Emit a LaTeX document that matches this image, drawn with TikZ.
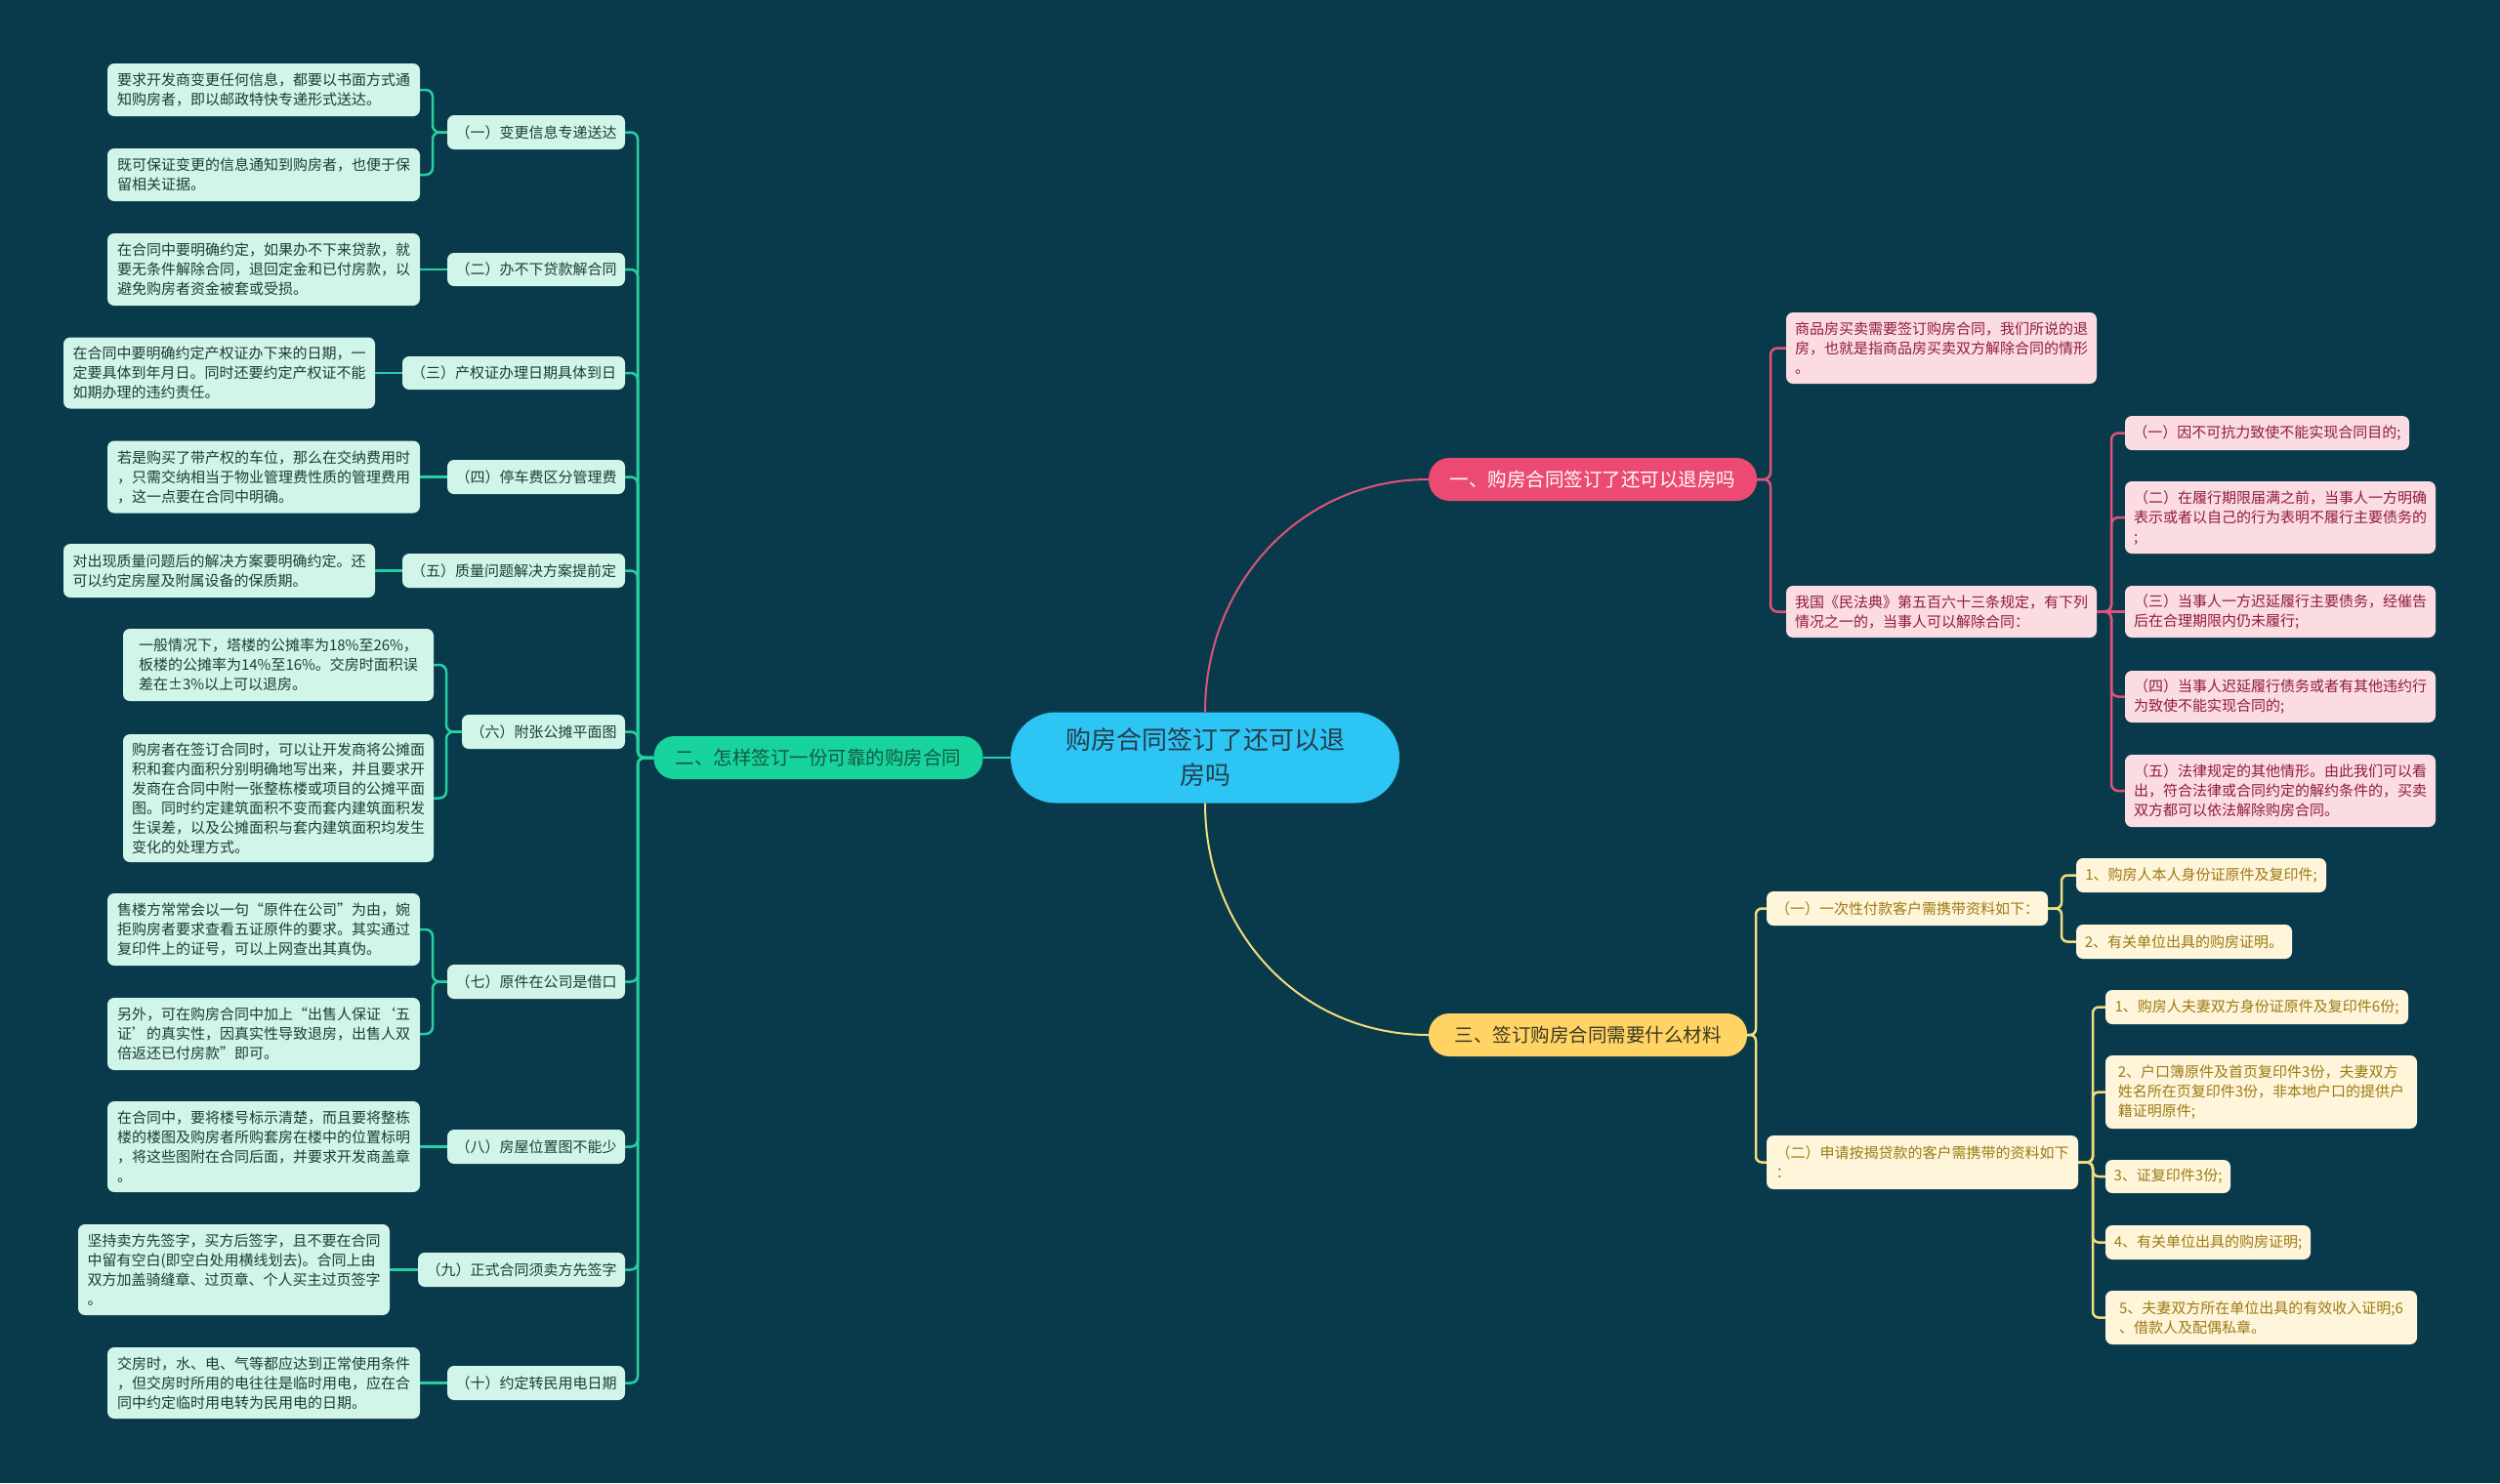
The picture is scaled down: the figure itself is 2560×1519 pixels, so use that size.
\documentclass[tikz,border=0pt]{standalone}
\usepackage{fontspec}
\setmainfont{Noto Sans CJK SC}
\definecolor{bg}{HTML}{093A4B}
\definecolor{cfill}{HTML}{2DC5F4}
\definecolor{ctext}{HTML}{263C4C}
\definecolor{bone}{HTML}{EC4A72}
\definecolor{btwo}{HTML}{17D49C}
\definecolor{btwotext}{HTML}{155645}
\definecolor{bthree}{HTML}{FFD464}
\definecolor{bthreetext}{HTML}{3C3820}
\definecolor{gfill}{HTML}{D2F5EA}
\definecolor{gtext}{HTML}{1D3B35}
\definecolor{pfill}{HTML}{FCDCE3}
\definecolor{ptext}{HTML}{8E1C3F}
\definecolor{yfill}{HTML}{FFF5DA}
\definecolor{ytext}{HTML}{9C7A14}
\definecolor{gline}{HTML}{25D1A2}
\definecolor{pline}{HTML}{DF527B}
\definecolor{yline}{HTML}{F2DC7C}
\tikzset{
  basebox/.style={inner xsep=6pt, inner ysep=3pt, rounded corners=7pt, align=left, font=\fontsize{15}{20}\selectfont},
  gbox/.style={basebox, fill=gfill, text=gtext},
  pbox/.style={basebox, fill=pfill, text=ptext},
  ybox/.style={basebox, fill=yfill, text=ytext},
  sz/.style 2 args={minimum width=#1pt, minimum height=#2pt},
  branchbox/.style={rounded corners=21pt, inner sep=0pt, minimum height=44pt, font=\fontsize{19.5}{24}\selectfont},
  gl/.style={draw=gline, line width=2.5pt, rounded corners=7pt},
  pl/.style={draw=pline, line width=2.5pt, rounded corners=7pt},
  yl/.style={draw=yline, line width=2.5pt, rounded corners=6pt},
}
\begin{document}
\begin{tikzpicture}[x=1pt,y=-1pt]
\useasboundingbox (0,0) rectangle (2560,1519);
\fill[bg] (0,0) rectangle (2560,1519);

% ---- centre and branches
\node[fill=cfill, text=ctext, rounded corners=46pt, minimum width=398pt, minimum height=93pt, align=center, font=\fontsize{26}{36}\selectfont] (C) at (1234,776) {购房合同签订了还可以退\\房吗};
\node[branchbox, fill=bone, text=white, minimum width=336pt] (B1) at (1631,491) {一、购房合同签订了还可以退房吗};
\node[branchbox, fill=btwo, text=btwotext, minimum width=337pt] (B2) at (838,776) {二、怎样签订一份可靠的购房合同};
\node[branchbox, fill=bthree, text=bthreetext, minimum width=326pt] (B3) at (1626,1060) {三、签订购房合同需要什么材料};

\draw[pline, line width=2pt] (C.north) .. controls (1234,600) and (1330,491) .. (B1.west);
\draw[yline, line width=2pt] (C.south) .. controls (1234,953) and (1330,1060) .. (B3.west);
\draw[gline, line width=2pt] (C.west) -- (B2.east);

% ---- green branch: sub labels
\node[gbox, sz={182}{35}] (S1) at (549,135.5) {（一）变更信息专递送达};
\node[gbox, sz={182}{34}] (S2) at (549,276) {（二）办不下贷款解合同};
\node[gbox, sz={228}{34}] (S3) at (526,382) {（三）产权证办理日期具体到日};
\node[gbox, sz={182}{35}] (S4) at (549,488.5) {（四）停车费区分管理费};
\node[gbox, sz={228}{35}] (S5) at (526,584.5) {（五）质量问题解决方案提前定};
\node[gbox, sz={167}{35}] (S6) at (556.5,749.5) {（六）附张公摊平面图};
\node[gbox, sz={182}{35}] (S7) at (549,1005.5) {（七）原件在公司是借口};
\node[gbox, sz={182}{35}] (S8) at (549,1174.5) {（八）房屋位置图不能少};
\node[gbox, sz={212}{35}] (S9) at (534,1300.5) {（九）正式合同须卖方先签字};
\node[gbox, sz={182}{35}] (S10) at (549,1416.5) {（十）约定转民用电日期};

% ---- green branch: leaves
\node[gbox, sz={320}{54}] (L1a) at (270,92) {要求开发商变更任何信息，都要以书面方式通\\知购房者，即以邮政特快专递形式送达。};
\node[gbox, sz={320}{54}] (L1b) at (270,179) {既可保证变更的信息通知到购房者，也便于保\\留相关证据。};
\node[gbox, sz={320}{74}] (L2) at (270,276) {在合同中要明确约定，如果办不下来贷款，就\\要无条件解除合同，退回定金和已付房款，以\\避免购房者资金被套或受损。};
\node[gbox, sz={319}{73}] (L3) at (224.5,382) {在合同中要明确约定产权证办下来的日期，一\\定要具体到年月日。同时还要约定产权证不能\\如期办理的违约责任。};
\node[gbox, sz={320}{74}] (L4) at (270,488.5) {若是购买了带产权的车位，那么在交纳费用时\\，只需交纳相当于物业管理费性质的管理费用\\，这一点要在合同中明确。};
\node[gbox, sz={319}{55}] (L5) at (224.5,584.5) {对出现质量问题后的解决方案要明确约定。还\\可以约定房屋及附属设备的保质期。};
\node[gbox, sz={318}{74}] (L6a) at (285,681) {一般情况下，塔楼的公摊率为18\%至26\%，\\板楼的公摊率为14\%至16\%。交房时面积误\\差在±3\%以上可以退房。};
\node[gbox, sz={318}{131}] (L6b) at (285,817.5) {购房者在签订合同时，可以让开发商将公摊面\\积和套内面积分别明确地写出来，并且要求开\\发商在合同中附一张整栋楼或项目的公摊平面\\图。同时约定建筑面积不变而套内建筑面积发\\生误差，以及公摊面积与套内建筑面积均发生\\变化的处理方式。};
\node[gbox, sz={320}{74}] (L7a) at (270,952) {售楼方常常会以一句“原件在公司”为由，婉\\拒购房者要求查看五证原件的要求。其实通过\\复印件上的证号，可以上网查出其真伪。};
\node[gbox, sz={320}{74}] (L7b) at (270,1059) {另外，可在购房合同中加上“出售人保证‘五\\证’的真实性，因真实性导致退房，出售人双\\倍返还已付房款”即可。};
\node[gbox, sz={320}{93}] (L8) at (270,1174.5) {在合同中，要将楼号标示清楚，而且要将整栋\\楼的楼图及购房者所购套房在楼中的位置标明\\，将这些图附在合同后面，并要求开发商盖章\\。};
\node[gbox, sz={319}{93}] (L9) at (239.5,1300.5) {坚持卖方先签字，买方后签字，且不要在合同\\中留有空白(即空白处用横线划去)。合同上由\\双方加盖骑缝章、过页章、个人买主过页签字\\。};
\node[gbox, sz={320}{73}] (L10) at (270,1416.5) {交房时，水、电、气等都应达到正常使用条件\\，但交房时所用的电往往是临时用电，应在合\\同中约定临时用电转为民用电的日期。};

% ---- green connectors
\foreach \s in {S1,S2,S3,S4,S5,S6,S7,S8,S9,S10}{
  \draw[gl] (B2.west) -- (653,776) |- (\s.east);
}
\draw[gl] (S1.west) -- (443,135.5) |- (L1a.east);
\draw[gl] (S1.west) -- (443,135.5) |- (L1b.east);
\draw[gl] (S2.west) -- (L2.east);
\draw[gl] (S3.west) -- (L3.east);
\draw[gl] (S4.west) -- (L4.east);
\draw[gl] (S5.west) -- (L5.east);
\draw[gl] (S6.west) -- (457,749.5) |- (L6a.east);
\draw[gl] (S6.west) -- (457,749.5) |- (L6b.east);
\draw[gl] (S7.west) -- (443,1005.5) |- (L7a.east);
\draw[gl] (S7.west) -- (443,1005.5) |- (L7b.east);
\draw[gl] (S8.west) -- (L8.east);
\draw[gl] (S9.west) -- (L9.east);
\draw[gl] (S10.west) -- (L10.east);

% ---- pink branch
\node[pbox, sz={318}{73}] (P1) at (1988,356.5) {商品房买卖需要签订购房合同，我们所说的退\\房，也就是指商品房买卖双方解除合同的情形\\。};
\node[pbox, sz={318}{53}] (P2) at (1988,626.5) {我国《民法典》第五百六十三条规定，有下列\\情况之一的，当事人可以解除合同：};
\node[pbox, sz={291}{35}] (Q1) at (2321.5,443.5) {（一）因不可抗力致使不能实现合同目的;};
\node[pbox, sz={318}{74}] (Q2) at (2335,530) {（二）在履行期限届满之前，当事人一方明确\\表示或者以自己的行为表明不履行主要债务的\\;};
\node[pbox, sz={318}{53}] (Q3) at (2335,626.5) {（三）当事人一方迟延履行主要债务，经催告\\后在合理期限内仍未履行;};
\node[pbox, sz={318}{53}] (Q4) at (2335,713.5) {（四）当事人迟延履行债务或者有其他违约行\\为致使不能实现合同的;};
\node[pbox, sz={318}{74}] (Q5) at (2335,810) {（五）法律规定的其他情形。由此我们可以看\\出，符合法律或合同约定的解约条件的，买卖\\双方都可以依法解除购房合同。};

\draw[pl] (B1.east) -- (1813,491) |- (P1.west);
\draw[pl] (B1.east) -- (1813,491) |- (P2.west);
\draw[pl] (P2.east) -- (2162,626.5) |- (Q1.west);
\draw[pl] (P2.east) -- (2162,626.5) |- (Q2.west);
\draw[pl] (P2.east) -- (Q3.west);
\draw[pl] (P2.east) -- (2162,626.5) |- (Q4.west);
\draw[pl] (P2.east) -- (2162,626.5) |- (Q5.west);

% ---- yellow branch
\node[ybox, sz={288}{35}] (Y1) at (1953,930.5) {（一）一次性付款客户需携带资料如下：};
\node[ybox, sz={319}{55}] (Y2) at (1968.5,1190.5) {（二）申请按揭贷款的客户需携带的资料如下\\：};
\node[ybox, sz={256}{35}] (Y1a) at (2254,896.5) {1、购房人本人身份证原件及复印件;};
\node[ybox, sz={221}{35}] (Y1b) at (2236.5,964.5) {2、有关单位出具的购房证明。};
\node[ybox, sz={310}{35}] (Y2a) at (2311,1031.5) {1、购房人夫妻双方身份证原件及复印件6份;};
\node[ybox, sz={319}{75}] (Y2b) at (2315.5,1118.5) {2、户口簿原件及首页复印件3份，夫妻双方\\姓名所在页复印件3份，非本地户口的提供户\\籍证明原件;};
\node[ybox, sz={128}{34}] (Y2c) at (2220,1205) {3、证复印件3份;};
\node[ybox, sz={210}{35}] (Y2d) at (2261,1272.5) {4、有关单位出具的购房证明;};
\node[ybox, sz={319}{55}] (Y2e) at (2315.5,1349.5) {5、夫妻双方所在单位出具的有效收入证明;6\\、借款人及配偶私章。};

\draw[yl] (B3.east) -- (1798,1060) |- (Y1.west);
\draw[yl] (B3.east) -- (1798,1060) |- (Y2.west);
\draw[yl] (Y1.east) -- (2111,930.5) |- (Y1a.west);
\draw[yl] (Y1.east) -- (2111,930.5) |- (Y1b.west);
\foreach \t in {Y2a,Y2b,Y2c,Y2d,Y2e}{
  \draw[yl] (Y2.east) -- (2143,1190.5) |- (\t.west);
}
\end{tikzpicture}
\end{document}
